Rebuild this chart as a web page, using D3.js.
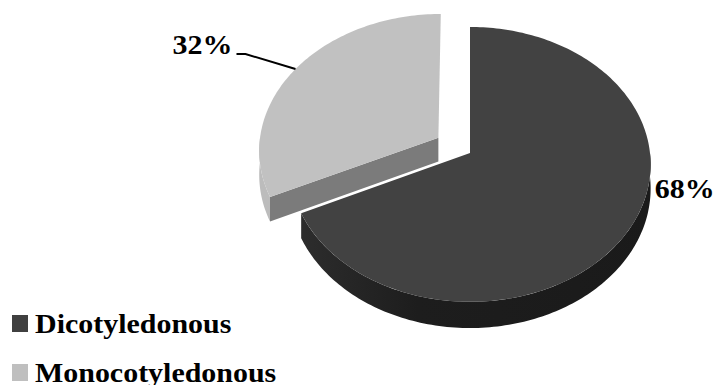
<!DOCTYPE html>
<html>
<head>
<meta charset="utf-8">
<script src="https://cdn.jsdelivr.net/npm/d3@7"></script>
<style>
  body { margin: 0; background: #fff; }
  svg { display: block; }
  text { font-family: "Liberation Serif", "Times New Roman", serif; font-weight: bold; fill: #000; }
</style>
</head>
<body>
<svg id="chart" width="717" height="385"></svg>
<script>
var categories = ["Dicotyledonous", "Monocotyledonous"];
var values = [68, 32];
var labels = ["68%", "32%"];
var topColors = ["#424242", "#c1c1c1"];
var wallColors = ["url(#darkWall)", "#bcbcbc"];
var faceColors = ["#333333", "#7b7b7b"];
var legendColors = ["#404040", "#bfbfbf"];
var explode = [0, 0.21];

var width = 717, height = 385;

// tilted disc with a bit of perspective (front is bigger than back)
var cx = 470, cy = 153, rx = 180, ry = 136.5, k = 0.083, depth = 24;

var svg = d3.select("#chart");
svg.append("rect").attr("width", width).attr("height", height).attr("fill", "#fff");

var defs = svg.append("defs");
var g = defs.append("linearGradient").attr("id", "darkWall")
    .attr("gradientUnits", "userSpaceOnUse")
    .attr("x1", 290).attr("x2", 655).attr("y1", 0).attr("y2", 0);
g.append("stop").attr("offset", "0%").attr("stop-color", "#2e2e2e");
g.append("stop").attr("offset", "35%").attr("stop-color", "#1d1d1d");
g.append("stop").attr("offset", "100%").attr("stop-color", "#1a1a1a");

var pie = d3.pie().sort(null).value(function (d) { return d; });
var arcs = pie(values);

function project(u, v, z) {
  var s = 1 / (1 - k * v);
  return [cx + rx * u * s, cy + (ry * v + depth * z) * s];
}

function point(d, a, r, z) {
  var mid = (d.startAngle + d.endAngle) / 2,
      e = explode[d.index];
  var u = e * Math.sin(mid) + r * Math.sin(a),
      v = -e * Math.cos(mid) - r * Math.cos(a);
  return project(u, v, z);
}

function arcPoints(d, a0, a1, z) {
  var n = Math.max(2, Math.ceil((a1 - a0) / 0.02));
  return d3.range(n + 1).map(function (i) {
    return point(d, a0 + (a1 - a0) * i / n, 1, z);
  });
}

var line = d3.line();

function topPath(d) {
  var pts = [point(d, d.startAngle, 0, 0)].concat(arcPoints(d, d.startAngle, d.endAngle, 0));
  return line(pts) + "Z";
}

function wallPath(d) {
  // only the front half of the rim is seen
  var a0 = Math.max(d.startAngle, Math.PI / 2),
      a1 = Math.min(d.endAngle, 3 * Math.PI / 2);
  if (a1 <= a0) return null;
  var pts = arcPoints(d, a0, a1, 0).concat(arcPoints(d, a0, a1, 1).reverse());
  return line(pts) + "Z";
}

function facePath(d) {
  // radial cut at the start angle, facing the viewer for the exploded slice
  var a = d.startAngle;
  return line([point(d, a, 0, 0), point(d, a, 1, 0), point(d, a, 1, 1), point(d, a, 0, 1)]) + "Z";
}

var slices = svg.selectAll("g.slice")
    .data(arcs)
    .enter().append("g")
    .attr("class", "slice");

slices.each(function (d) {
  var sel = d3.select(this);
  var w = wallPath(d);
  if (w) sel.append("path").attr("d", w).attr("fill", wallColors[d.index]);
  if (explode[d.index] > 0) {
    sel.append("path").attr("d", facePath(d)).attr("fill", faceColors[d.index]);
  }
  sel.append("path").attr("d", topPath(d)).attr("fill", topColors[d.index]);
});

// data labels
var fontSize = 28, stretch = 1.07;

function label(x, y, txt, anchor) {
  svg.append("text")
      .attr("transform", "translate(" + x + "," + y + ") scale(" + stretch + ",1)")
      .attr("text-anchor", anchor)
      .style("font-size", fontSize + "px")
      .text(txt);
}

// 68% sits just right of the rim
var p68 = point(arcs[0], Math.PI * 100 / 180, 1, 0);
label(p68[0] + 5, p68[1] + 21, labels[0], "start");

// 32% with a leader line from the mid-angle of the slice
var mid1 = (arcs[1].startAngle + arcs[1].endAngle) / 2;
var p32 = point(arcs[1], mid1, 1, 0);
var elbow = [p32[0] - 50, p32[1] - 15];
svg.append("path")
    .attr("d", line([p32, elbow, [elbow[0] - 9, elbow[1]]]))
    .attr("fill", "none")
    .attr("stroke", "#000")
    .attr("stroke-width", 2);
label(elbow[0] - 13, elbow[1], labels[1], "end");

// legend
var legend = svg.selectAll("g.legend")
    .data(categories)
    .enter().append("g")
    .attr("class", "legend")
    .attr("transform", function (d, i) { return "translate(12," + (315 + i * 49) + ")"; });

legend.append("rect")
    .attr("width", 16).attr("height", 17)
    .attr("fill", function (d, i) { return legendColors[i]; });

legend.append("text")
    .attr("transform", "translate(23,18) scale(" + stretch + ",1)")
    .style("font-size", fontSize + "px")
    .text(function (d) { return d; });
</script>
</body>
</html>
